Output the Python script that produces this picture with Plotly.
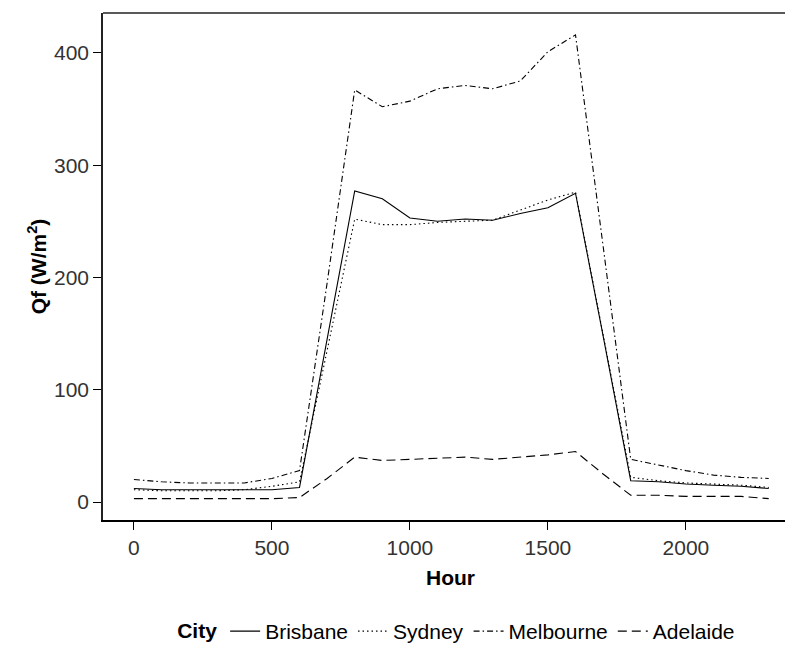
import plotly.graph_objects as go

hours = list(range(0, 2400, 100))
brisbane = [12, 11, 11, 11, 11, 11, 13, 145, 277, 270, 253, 250, 252, 251, 257, 262, 275, 148, 19, 18, 16, 15, 14, 12]
sydney = [11, 10, 10, 10, 11, 14, 18, 135, 252, 247, 247, 249, 250, 251, 260, 269, 276, 150, 22, 19, 17, 16, 15, 13]
melbourne = [20, 18, 17, 17, 17, 21, 28, 195, 367, 352, 357, 368, 371, 368, 375, 401, 416, 228, 38, 33, 28, 24, 22, 21]
adelaide = [3, 3, 3, 3, 3, 3, 4, 21, 40, 37, 38, 39, 40, 38, 40, 42, 45, 25, 6, 6, 5, 5, 5, 3]

cities = ["Brisbane", "Sydney", "Melbourne", "Adelaide"]
series = [brisbane, sydney, melbourne, adelaide]
dashes = ["solid", "1.5px,3px", "6px,3px,1.5px,3px", "9px,5px"]

FONT = "Liberation Sans, Arial, sans-serif"
FS = 21

fig = go.Figure()
for name, vals, d in zip(cities, series, dashes):
    fig.add_trace(go.Scatter(x=hours, y=vals, mode="lines", name=name,
                             line=dict(color="black", width=1.1, dash=d)))

fig.update_layout(
    width=785, height=652, autosize=False,
    margin=dict(l=103, r=0, t=13, b=129),
    plot_bgcolor="white", paper_bgcolor="white",
    font=dict(family=FONT, size=FS, color="black"),
    showlegend=True,
    legend=dict(orientation="h", x=0.52, xanchor="center", y=-0.22, yanchor="middle",
                title=dict(text="<b>City</b>", side="left", font=dict(size=FS)),
                font=dict(size=FS), itemwidth=30, tracegroupgap=0),
    xaxis=dict(range=[-112, 2359], tickvals=[0, 500, 1000, 1500, 2000],
               showgrid=False, zeroline=False, showline=True, linecolor="black", linewidth=2,
               ticks="outside", ticklen=8, tickwidth=1.3, tickcolor="black",
               tickfont=dict(size=FS, color="#333333")),
    yaxis=dict(range=[-16, 435.5], tickvals=[0, 100, 200, 300, 400],
               showgrid=False, zeroline=False, showline=True, linecolor="#222222", linewidth=1.5,
               ticks="outside", ticklen=8, tickwidth=1.3, tickcolor="black",
               tickfont=dict(size=FS, color="#333333"),
               title=dict(text="<b>Qf (W/m<sup>2</sup>)</b>", font=dict(size=FS), standoff=2)),
    shapes=[dict(type="line", xref="paper", yref="paper", x0=0, x1=1, y0=1, y1=1,
                 line=dict(color="#222222", width=1.5))],
    annotations=[dict(text="<b>Hour</b>", xref="paper", yref="paper", x=0.51, y=-0.113,
                      xanchor="center", yanchor="middle", showarrow=False,
                      font=dict(size=FS))],
)

fig.write_html("out.html")
